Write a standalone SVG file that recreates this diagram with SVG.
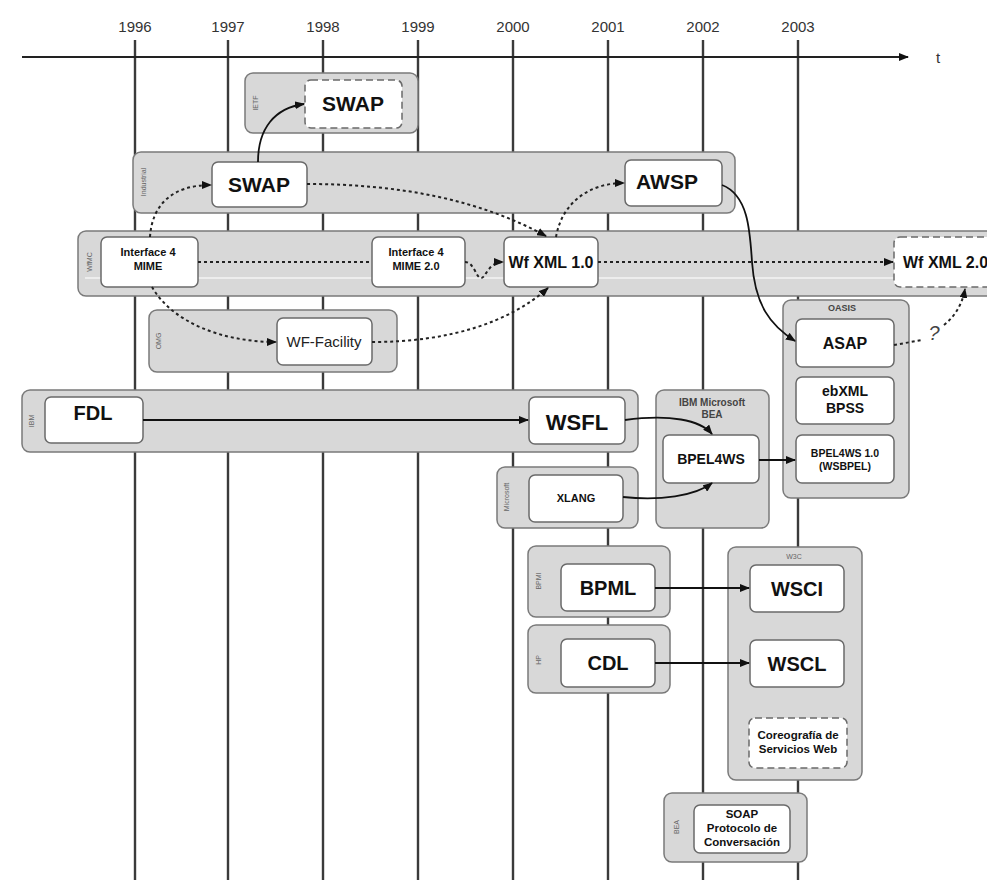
<svg xmlns="http://www.w3.org/2000/svg" width="987" height="880" viewBox="0 0 987 880">
<defs>
<marker id="ah" markerWidth="10" markerHeight="8" refX="9" refY="4" orient="auto" markerUnits="userSpaceOnUse">
<path d="M0,0 L10,4 L0,8 z" fill="#111"/>
</marker>
<style>
.grid{stroke:#3a3a3a;stroke-width:2.4}
.grp{fill:#d8d8d8;stroke:#7a7a7a;stroke-width:1.5}
.nd{fill:#fff;stroke:#6a6a6a;stroke-width:1.5}
.dn{fill:#fff;stroke:#6a6a6a;stroke-width:1.5;stroke-dasharray:7,4}
.yr{font-family:"Liberation Sans",Arial,sans-serif;font-size:15px;fill:#333;text-anchor:middle}
.t{font-family:"Liberation Sans",Arial,sans-serif;font-weight:bold;fill:#111;text-anchor:middle}
.gl{font-family:"Liberation Sans",Arial,sans-serif;font-size:7px;fill:#666;text-anchor:middle}
.sol{fill:none;stroke:#111;stroke-width:1.8}
.dot{fill:none;stroke:#222;stroke-width:2;stroke-dasharray:3,3}
</style>
</defs>
<rect width="987" height="880" fill="#fff"/>
<g id="axis">
<line class="grid" x1="135" y1="40" x2="135" y2="880"/>
<line class="grid" x1="228" y1="40" x2="228" y2="880"/>
<line class="grid" x1="323" y1="40" x2="323" y2="880"/>
<line class="grid" x1="418" y1="40" x2="418" y2="880"/>
<line class="grid" x1="513" y1="40" x2="513" y2="880"/>
<line class="grid" x1="608" y1="40" x2="608" y2="880"/>
<line class="grid" x1="703" y1="40" x2="703" y2="880"/>
<line class="grid" x1="798" y1="40" x2="798" y2="880"/>
<line x1="22" y1="57" x2="908" y2="57" stroke="#222" stroke-width="2" marker-end="url(#ah)"/>
<text class="yr" x="135" y="32">1996</text>
<text class="yr" x="228" y="32">1997</text>
<text class="yr" x="323" y="32">1998</text>
<text class="yr" x="418" y="32">1999</text>
<text class="yr" x="513" y="32">2000</text>
<text class="yr" x="608" y="32">2001</text>
<text class="yr" x="703" y="32">2002</text>
<text class="yr" x="798" y="32">2003</text>
<text class="yr" x="938" y="63">t</text>
</g>
<g id="ietf">
<rect class="grp" x="245" y="73" width="173" height="60" rx="8"/>
<text class="gl" transform="translate(258,103) rotate(-90)">IETF</text>
</g>
<g id="industria">
<rect class="grp" x="133" y="152" width="602" height="61" rx="8"/>
<text class="gl" transform="translate(146,182) rotate(-90)">Industrial</text>
</g>
<g id="wfmc">
<rect class="grp" x="78" y="231" width="920" height="65" rx="8"/>
<line x1="85" y1="278" x2="987" y2="278" stroke="#f4f4f4" stroke-width="1.5"/>
<text class="gl" transform="translate(92,262) rotate(-90)">WfMC</text>
</g>
<g id="omg">
<rect class="grp" x="149" y="310" width="248" height="62" rx="8"/>
<text class="gl" transform="translate(161,341) rotate(-90)">OMG</text>
</g>
<g id="oasis">
<rect class="grp" x="783" y="300" width="126" height="198" rx="8"/>
<text class="t" x="842" y="311" style="font-size:9px;fill:#444">OASIS</text>
</g>
<g id="ibm">
<rect class="grp" x="22" y="390" width="616" height="62" rx="8"/>
<text class="gl" transform="translate(34,421) rotate(-90)">IBM</text>
</g>
<g id="ibmmsbea">
<rect class="grp" x="656" y="390" width="113" height="138" rx="8"/>
<text class="t" x="712" y="406" style="font-size:10px;fill:#444">IBM Microsoft</text>
<text class="t" x="712" y="418" style="font-size:10px;fill:#444">BEA</text>
</g>
<g id="microsoft">
<rect class="grp" x="497" y="467" width="141" height="61" rx="8"/>
<text class="gl" transform="translate(509,497) rotate(-90)">Microsoft</text>
</g>
<g id="bpmi">
<rect class="grp" x="528" y="546" width="142" height="71" rx="8"/>
<text class="gl" transform="translate(541,581) rotate(-90)">BPMI</text>
</g>
<g id="hp">
<rect class="grp" x="528" y="625" width="142" height="68" rx="8"/>
<text class="gl" transform="translate(541,660) rotate(-90)">HP</text>
</g>
<g id="w3c">
<rect class="grp" x="728" y="547" width="134" height="233" rx="8"/>
<text class="gl" x="794" y="559">W3C</text>
</g>
<g id="bea">
<rect class="grp" x="664" y="793" width="143" height="69" rx="8"/>
<text class="gl" transform="translate(679,827) rotate(-90)">BEA</text>
</g>
<g id="n-swap-ietf"><rect class="dn" x="305" y="80" width="97" height="48" rx="6"/><text class="t" x="353" y="111" style="font-size:21px">SWAP</text></g>
<g id="n-swap"><rect class="nd" x="212" y="162" width="95" height="45" rx="6"/><text class="t" x="259" y="192" style="font-size:21px">SWAP</text></g>
<g id="n-awsp"><rect class="nd" x="625" y="160" width="97" height="46" rx="6"/><text class="t" x="667" y="189" style="font-size:21px">AWSP</text></g>
<g id="n-i4m"><rect class="nd" x="101" y="237" width="97" height="50" rx="6"/><text class="t" x="148" y="256" style="font-size:11px">Interface 4</text><text class="t" x="148" y="270" style="font-size:11px">MIME</text></g>
<g id="n-i4m2"><rect class="nd" x="372" y="237" width="93" height="50" rx="6"/><text class="t" x="416" y="256" style="font-size:11px">Interface 4</text><text class="t" x="416" y="270" style="font-size:11px">MIME 2.0</text></g>
<g id="n-wfxml1"><rect class="nd" x="504" y="237" width="94" height="50" rx="6"/><text class="t" x="551" y="268" style="font-size:16px">Wf XML 1.0</text></g>
<g id="n-wfxml2"><rect class="dn" x="894" y="237" width="100" height="50" rx="6"/><text class="t" x="903" y="268" style="font-size:16px;text-anchor:start">Wf XML 2.0</text></g>
<g id="n-wff"><rect class="nd" x="277" y="318" width="95" height="47" rx="6"/><text x="324" y="347" style="font-family:'Liberation Sans',Arial,sans-serif;font-size:15px;fill:#222;text-anchor:middle">WF-Facility</text></g>
<g id="n-asap"><rect class="nd" x="796" y="319" width="98" height="48" rx="6"/><text class="t" x="845" y="349" style="font-size:16px">ASAP</text></g>
<g id="n-ebxml"><rect class="nd" x="796" y="377" width="98" height="47" rx="6"/><text class="t" x="845" y="396" style="font-size:14px">ebXML</text><text class="t" x="845" y="413" style="font-size:14px">BPSS</text></g>
<g id="n-bpel10"><rect class="nd" x="796" y="435" width="98" height="48" rx="6"/><text class="t" x="845" y="457" style="font-size:10.5px">BPEL4WS 1.0</text><text class="t" x="845" y="470" style="font-size:10.5px">(WSBPEL)</text></g>
<g id="n-fdl"><rect class="nd" x="45" y="397" width="98" height="46" rx="6"/><text class="t" x="93" y="420" style="font-size:20px">FDL</text></g>
<g id="n-wsfl"><rect class="nd" x="529" y="397" width="96" height="47" rx="6"/><text class="t" x="577" y="430" style="font-size:22px">WSFL</text></g>
<g id="n-bpel"><rect class="nd" x="663" y="435" width="96" height="48" rx="6"/><text class="t" x="711" y="464" style="font-size:14px">BPEL4WS</text></g>
<g id="n-xlang"><rect class="nd" x="529" y="475" width="94" height="47" rx="6"/><text class="t" x="576" y="502" style="font-size:11px">XLANG</text></g>
<g id="n-bpml"><rect class="nd" x="561" y="564" width="94" height="47" rx="6"/><text class="t" x="608" y="595" style="font-size:20px">BPML</text></g>
<g id="n-cdl"><rect class="nd" x="561" y="639" width="94" height="48" rx="6"/><text class="t" x="608" y="670" style="font-size:20px">CDL</text></g>
<g id="n-wsci"><rect class="nd" x="750" y="565" width="94" height="47" rx="6"/><text class="t" x="797" y="596" style="font-size:20px">WSCI</text></g>
<g id="n-wscl"><rect class="nd" x="750" y="640" width="94" height="47" rx="6"/><text class="t" x="797" y="671" style="font-size:20px">WSCL</text></g>
<g id="n-coreo"><rect class="dn" x="749" y="718" width="98" height="50" rx="6"/><text class="t" x="798" y="739" style="font-size:11.5px">Coreografía de</text><text class="t" x="798" y="753" style="font-size:11.5px">Servicios Web</text></g>
<g id="n-soap"><rect class="nd" x="694" y="805" width="96" height="48" rx="6"/><text class="t" x="742" y="818" style="font-size:11.5px">SOAP</text><text class="t" x="742" y="832" style="font-size:11.5px">Protocolo de</text><text class="t" x="742" y="846" style="font-size:11.5px">Conversación</text></g>
<g id="connectors">
<path class="sol" d="M258,162 C258,128 275,108 304,104" marker-end="url(#ah)"/>
<path class="dot" d="M150,237 C152,205 172,185 211,185" marker-end="url(#ah)"/>
<path class="dot" d="M152,287 C172,322 222,342 276,342" marker-end="url(#ah)"/>
<path class="dot" d="M307,184 C400,184 480,200 546,236" marker-end="url(#ah)"/>
<path class="dot" d="M556,237 C562,202 590,183 624,183" marker-end="url(#ah)"/>
<path class="dot" d="M198,262 L372,262"/>
<path class="dot" d="M465,262 C474,262 476,278 481,278 C486,278 488,262 503,262" marker-end="url(#ah)"/>
<path class="dot" d="M598,262 L893,262" marker-end="url(#ah)"/>
<path class="dot" d="M372,342 C450,342 510,322 548,288" marker-end="url(#ah)"/>
<path class="sol" d="M722,185 C748,195 750,230 752,262 C755,305 770,325 795,341" marker-end="url(#ah)"/>
<path class="dot" d="M894,345 L922,340"/>
<path class="dot" d="M944,325 C955,316 962,305 965,289" marker-end="url(#ah)"/>
<text x="934" y="340" style="font-family:'Liberation Sans',Arial,sans-serif;font-size:20px;font-style:italic;fill:#444;text-anchor:middle">?</text>
<path class="sol" d="M143,420 L528,420" marker-end="url(#ah)"/>
<path class="sol" d="M625,420 C670,414 700,420 712,434" marker-end="url(#ah)"/>
<path class="sol" d="M623,497 C660,501 695,496 712,483" marker-end="url(#ah)"/>
<path class="sol" d="M759,460 L795,460" marker-end="url(#ah)"/>
<path class="sol" d="M655,588 L749,588" marker-end="url(#ah)"/>
<path class="sol" d="M655,663 L749,663" marker-end="url(#ah)"/>
</g>
</svg>
